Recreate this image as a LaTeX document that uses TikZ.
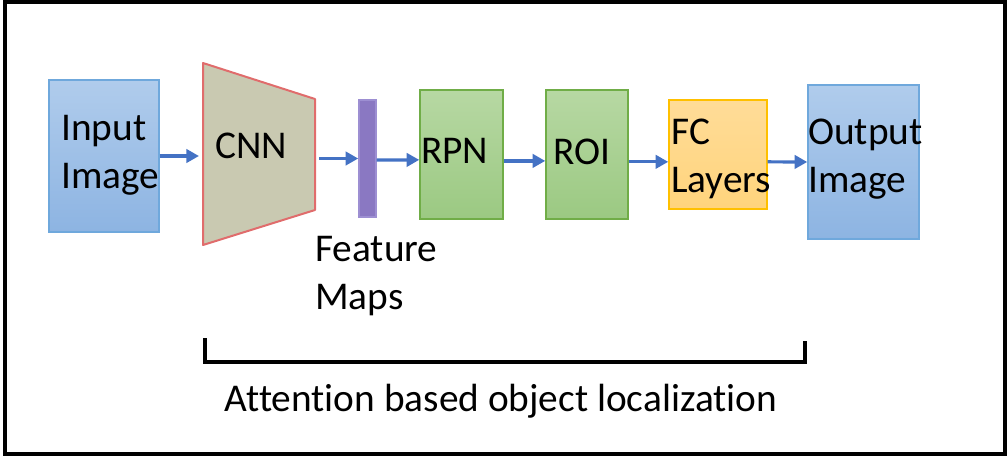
\documentclass[tikz,border=0pt]{standalone}
\usepackage{fontspec}
\setmainfont{Carlito}[Ligatures=NoCommon]
\usetikzlibrary{arrows.meta}
\definecolor{arrblue}{HTML}{4472C4}
\definecolor{bluetop}{HTML}{B0CCEC}
\definecolor{bluebot}{HTML}{8DB4E2}
\definecolor{blueedge}{HTML}{6FA8DC}
\definecolor{greentop}{HTML}{B7D8A3}
\definecolor{greenbot}{HTML}{9BC982}
\definecolor{greenedge}{HTML}{70AD47}
\definecolor{fctop}{HTML}{FFDC98}
\definecolor{fcbot}{HTML}{FFD47C}
\definecolor{fcedge}{HTML}{FFC000}
\definecolor{cnnfill}{HTML}{C9C9B1}
\definecolor{cnnedge}{HTML}{E06C6C}
\definecolor{fmfill}{HTML}{8A78C2}
\definecolor{fmedge}{HTML}{9D8FD2}
\tikzset{
  box/.style={draw, line width=1.1pt, inner sep=0pt},
  bluebox/.style={box, draw=blueedge, top color=bluetop, bottom color=bluebot},
  greenbox/.style={box, draw=greenedge, top color=greentop, bottom color=greenbot},
  fcbox/.style={box, draw=fcedge, top color=fctop, bottom color=fcbot},
  lbl/.style={inner sep=0pt, font=\fontsize{29.5}{36}\selectfont, align=left, text=black},
  arr/.style={draw=arrblue, line width=2.4pt, -{Triangle[length=9.5pt,width=10pt]}},
}
\begin{document}
\begin{tikzpicture}[x=0.75pt,y=-0.75pt]
\useasboundingbox (0,0) rectangle (1008,457);
\draw[line width=3pt] (5,2) rectangle (1005,454);
% boxes
\node[bluebox, minimum width=82.5pt, minimum height=114pt] (inp) at (104,156) {};
\filldraw[fill=cnnfill, draw=cnnedge, line width=1.5pt, line join=round]
  (203,63) -- (315,99) -- (315,210) -- (203,245) -- cycle;
\coordinate (cnnL) at (199,156);
\coordinate (cnnR) at (319,158.5);
\node[box, fill=fmfill, draw=fmedge, minimum width=12.75pt, minimum height=87.75pt] (fm) at (367.5,158.5) {};
\node[greenbox, minimum width=62.25pt, minimum height=96.75pt] (rpn) at (461.5,154.5) {};
\node[greenbox, minimum width=61.5pt, minimum height=96.75pt] (roi) at (587,154.5) {};
\node[fcbox, minimum width=73.5pt, minimum height=81.75pt] (fc) at (718,154.5) {};
\node[bluebox, minimum width=83.25pt, minimum height=115.5pt] (out) at (863.5,162) {};
% labels
\node[lbl, anchor=base west] (tinp) at (61,188) {Input\\Image};
\node[lbl, anchor=base west] (tcnn) at (215,158) {CNN};
\node[lbl, anchor=base west] (trpn) at (421,163) {RPN};
\node[lbl, anchor=base west] (troi) at (553,164) {ROI};
\node[lbl, anchor=base west] (tfc) at (671,192) {FC\\Layers};
\node[lbl, anchor=base west] (tout) at (808,192) {Output\\Image};
\node[lbl, anchor=base west] (tfm) at (315,309) {Feature\\Maps};
% arrows
\draw[arr] (inp.east) -- (cnnL);
\draw[arr] (cnnR) -- (fm.west);
\draw[arr] ([yshift=-1.2pt]fm.east) -- ([yshift=-4pt]rpn.west);
\draw[arr] ([yshift=-4.8pt]rpn.east) -- ([yshift=-4.8pt]roi.west);
\draw[arr] ([yshift=-5.5pt]roi.east) -- ([yshift=-5.5pt]fc.west);
\draw[arr] ([yshift=-5.5pt]fc.east) -- (out.west |- 0,162);
% bracket
\coordinate (bl) at (205,340);
\coordinate (br) at (805,343);
\draw[line width=3pt, line cap=rect] (bl) -- (bl |- 0,362) -- (br |- 0,362) -- (br);
\node[lbl, anchor=base] (tatt) at (501,411) {Attention based object localization};
\end{tikzpicture}
\end{document}
